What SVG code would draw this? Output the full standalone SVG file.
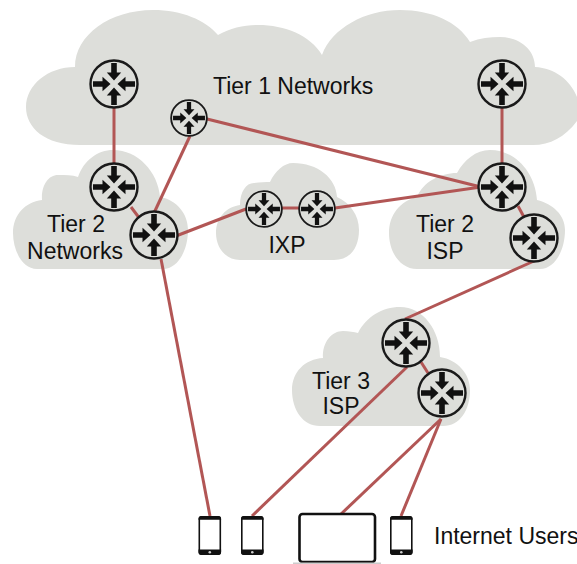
<svg xmlns="http://www.w3.org/2000/svg" width="577" height="564" viewBox="0 0 577 564">
<style>
.cloud{fill:#dddeda}
.link{stroke:#b25655;stroke-width:3;fill:none}
.t{font-family:"Liberation Sans",Arial,sans-serif;font-size:23px;fill:#111}
.ring{fill:#dddeda;stroke:#1a1a1a;stroke-width:2.4}
.arr{fill:#111}
.body{fill:#fff;stroke:#111;stroke-width:1.6}
.bar{fill:#111}
</style>
<defs>
<g id="r">
<circle class="ring" r="23.500"/>
<path id="a" class="arr" d="M-2.800,-21H2.800V-11.500H7.200L0,-3.500L-7.200,-11.500H-2.800Z"/>
<use href="#a" transform="rotate(90)"/>
<use href="#a" transform="rotate(180)"/>
<use href="#a" transform="rotate(270)"/>
</g>
<g id="phone">
<rect class="body" x="0.800" y="0.800" width="21" height="37.500" rx="2.500"/>
<path class="bar" d="M0,3V3.800H22.600V3Q22.600,0 19.600,0H3Q0,0 0,3Z"/>
<path class="bar" d="M0,33.500H22.600V36Q22.600,39 19.600,39H3Q0,39 0,36Z"/>
<circle cx="11.300" cy="36.300" r="1.300" fill="#ccc"/>
</g>
</defs>
<g id="clouds">
<path id="cloud-tier1" class="cloud" d="M80,145C45,145 26,128 26,107C26,85 48,67 75,67C75,35 110,10 153,10C182,10 205,20 218,35C230,28 245,25 258,25C285,25 310,35 322,55C332,28 365,10 400,10C432,10 458,22 470,42C480,38 490,37 500,37C520,37 535,50 535,67C555,68 570,80 577,97V121C565,137 550,145 533,145Z"/>
<path id="cloud-tier2-left" class="cloud" d="M37,269C22,269 13,250 13,233C13,215 25,202 42,200C41,186 48,175 58,175C66,175 72,175 78,177C84,160 98,150 113,150C138,150 158,172 160,197C177,200 188,214 188,230C188,250 178,269 163,269Z"/>
<path id="cloud-ixp" class="cloud" d="M240,260C226,260 216,248 216,233C216,218 226,207 240,205C240,192 246,183 254,183C260,182 266,182 270,182C275,171 284,163 293,163C318,163 336,178 337,197C350,203 359,215 359,230C359,248 350,260 334,260Z"/>
<path id="cloud-tier2-isp" class="cloud" d="M417,269C400,269 389,252 389,233C389,215 400,201 417,197C423,182 440,173 457,173C464,160 476,150 490,150C515,150 535,172 537,200C553,204 565,215 565,230C565,250 555,269 540,269Z"/>
<path id="cloud-tier3" class="cloud" d="M320,426C303,426 292,410 292,390C292,372 305,359 323,358C322,342 332,331 343,331C349,331 354,332 358,333C366,317 382,307 400,307C423,307 440,330 440,357C458,360 470,374 470,390C470,410 460,426 443,426Z"/>
</g>
<g id="connectors">
<path class="link" d="M114,105V168"/>
<path class="link" d="M502,105V168"/>
<path class="link" d="M131,207L140,219"/>
<path class="link" d="M518,206L525,219"/>
<path class="link" d="M190,136L154,213"/>
<path class="link" d="M207,119L481,187"/>
<path class="link" d="M176,236L246,209"/>
<path class="link" d="M282,208H300"/>
<path class="link" d="M335,208L481,187"/>
<path class="link" d="M534,261L405,319"/>
<path class="link" d="M421,362L428,373"/>
<path class="link" d="M161,259L210,516"/>
<path class="link" d="M407,367L252,516"/>
<path class="link" d="M441,419L340,515"/>
<path class="link" d="M441,419L401,516"/>
</g>
<g id="router-t1-left"><use href="#r" x="114" y="84"/></g>
<g id="router-t1-mid"><use href="#r" transform="translate(189,118) scale(.76)"/></g>
<g id="router-t1-right"><use href="#r" x="502" y="84"/></g>
<g id="router-t2-left-a"><use href="#r" x="114" y="187"/></g>
<g id="router-t2-left-b"><use href="#r" x="154" y="235"/></g>
<g id="router-ixp-a"><use href="#r" transform="translate(264,209) scale(.76)"/></g>
<g id="router-ixp-b"><use href="#r" transform="translate(317,209) scale(.76)"/></g>
<g id="router-t2-isp-a"><use href="#r" x="502" y="187"/></g>
<g id="router-t2-isp-b"><use href="#r" x="534" y="238"/></g>
<g id="router-t3-a"><use href="#r" x="406" y="343"/></g>
<g id="router-t3-b"><use href="#r" x="442" y="393"/></g>
<g id="user-phone-1"><use href="#phone" x="198.500" y="516"/></g>
<g id="user-phone-2"><use href="#phone" x="241" y="516"/></g>
<g id="user-laptop"><rect x="299.500" y="514" width="75.500" height="48" rx="3" fill="#fff" stroke="#111" stroke-width="2.600"/><rect x="293" y="562.500" width="88" height="1.500" fill="#ccc"/></g>
<g id="user-phone-3"><use href="#phone" x="390" y="516"/></g>
<g id="labels">
<text class="t" x="213" y="94">Tier 1 Networks</text>
<text class="t" x="76" y="232" text-anchor="middle">Tier 2</text>
<text class="t" x="75" y="259" text-anchor="middle">Networks</text>
<text class="t" x="287" y="253" text-anchor="middle">IXP</text>
<text class="t" x="445" y="232" text-anchor="middle">Tier 2</text>
<text class="t" x="445" y="259" text-anchor="middle">ISP</text>
<text class="t" x="341" y="389" text-anchor="middle">Tier 3</text>
<text class="t" x="341" y="414" text-anchor="middle">ISP</text>
<text class="t" x="434" y="544">Internet Users</text>
</g>
</svg>
